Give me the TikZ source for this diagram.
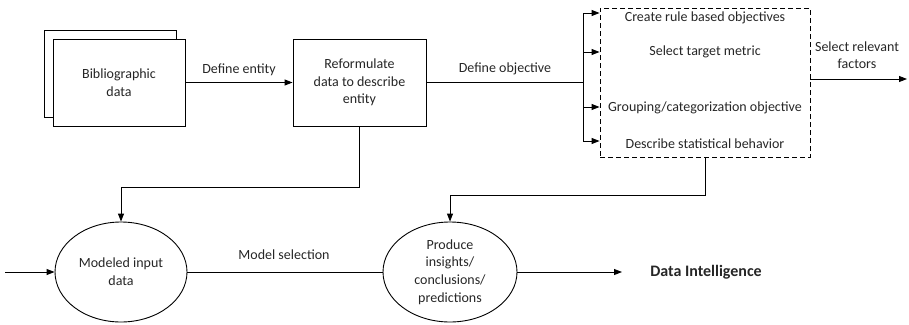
\documentclass[tikz,border=0pt]{standalone}
\usepackage{fontspec}
\setmainfont{Carlito}
\usetikzlibrary{arrows.meta,shapes.geometric}
\begin{document}
\begin{tikzpicture}[x=1pt,y=-1pt,line width=0.9pt,
  every node/.style={font=\fontsize{14}{17.7}\selectfont,align=center,text=black!85},
  box/.style={draw,fill=white,minimum width=132pt,minimum height=87pt,inner sep=0pt},
  oval/.style={draw,ellipse,minimum width=132pt,minimum height=100pt,inner sep=0pt},
  objbox/.style={draw,dash pattern=on 5pt off 3pt,minimum width=210pt,minimum height=149pt,inner sep=0pt},
  arr/.style={-{Triangle[length=8pt,width=6pt]}},
  lbl/.style={inner sep=1pt}]
\useasboundingbox (0,0) rectangle (909,324);

% stacked document boxes
\node[box] (bibback) at (110.5,74) {};
\node[box] (bib) at (119,82.5) {Bibliographic\\data};
\node[box,minimum width=133pt] (ref) at (359.5,82.5) {Reformulate\\data to describe\\entity};

% objectives box
\node[objbox] (obj) at (705,82.5) {};
\node[lbl] (o1) at (705,18) {Create rule based objectives};
\node[lbl] (o2) at (705,52) {Select target metric};
\node[lbl] (o3) at (705,108) {Grouping/categorization objective};
\node[lbl] (o4) at (705,144) {Describe statistical behavior};

% ellipses
\node[oval] (m1) at (121,272) {Modeled input\\data};
\node[oval,minimum width=134pt] (m2) at (450,272) {Produce\\insights/\\conclusions/\\predictions};
\node[lbl,font=\fontsize{16}{18}\selectfont\bfseries] (di) at (706,272) {Data Intelligence};

% helper points
\coordinate (jn) at (583,82.5);
\coordinate (j1) at (583,13);
\coordinate (j2) at (583,52);
\coordinate (j3) at (583,107);
\coordinate (j4) at (583,141);
\coordinate (sf) at (907,79);
\coordinate (b1) at (359.5,187);
\coordinate (b2) at (705,195);
\coordinate (src) at (5,272);
\coordinate (dtip) at (622,272);

% connectors
\draw[arr] (bib.east) -- (ref.west);
\node[lbl] at (239,70) {Define entity};
\draw (ref.east) -- (jn);
\node[lbl] at (505,69) {Define objective};
\draw (j1) -- (j4);
\draw[arr] (j1) -- (j1 -| obj.west);
\draw[arr] (j2) -- (j2 -| obj.west);
\draw[arr] (j3) -- (j3 -| obj.west);
\draw[arr] (j4) -- (j4 -| obj.west);
\draw[arr] (obj.east |- sf) -- (sf);
\node[lbl,font=\fontsize{14}{16.5}\selectfont] at (857,55) {Select relevant\\factors};

\draw[arr] (ref.south) -- (b1) -| (m1.north);
\draw[arr] (obj.south) -- (b2) -| (m2.north);
\draw[arr] (src) -- (m1.west);
\draw (m1.east) -- (m2.west);
\node[lbl] at (284,255) {Model selection};
\draw[arr] (m2.east) -- (dtip);
\end{tikzpicture}
\end{document}
